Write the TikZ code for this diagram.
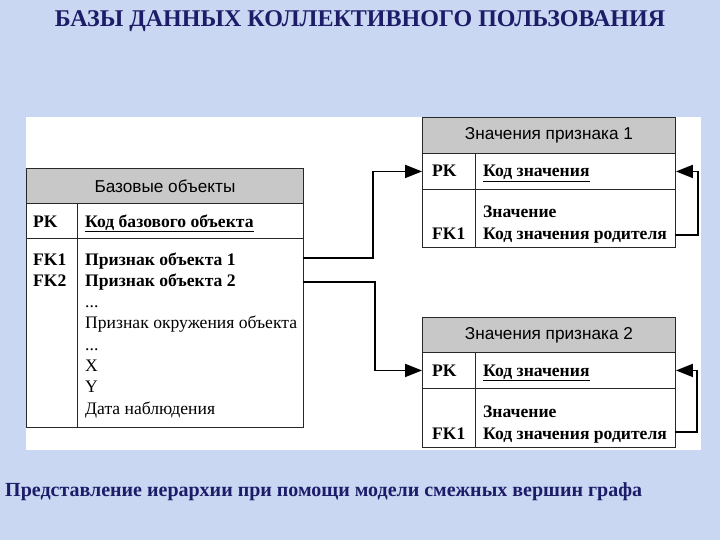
\documentclass[tikz,border=0pt]{standalone}
\usepackage{fontspec}
\setmainfont{Liberation Serif}
\newfontfamily\hdrfont{Liberation Sans}
\usetikzlibrary{arrows.meta}
\definecolor{bgblue}{RGB}{202,215,242}
\definecolor{navy}{RGB}{28,28,105}
\definecolor{hdrgray}{RGB}{200,200,200}
\definecolor{edge}{RGB}{40,40,40}
\tikzset{
  hdrbox/.style={draw=edge, line width=0.9pt, fill=hdrgray, inner sep=0pt, anchor=north west,
    font=\hdrfont\fontsize{17.2}{20}\selectfont},
  cellbox/.style={draw=edge, line width=0.9pt, fill=white, inner sep=0pt, anchor=north west},
  txt/.style={anchor=base west, inner sep=0pt, font=\fontsize{17.6}{21}\selectfont},
  btxt/.style={txt, font=\bfseries\fontsize{17.6}{21}\selectfont},
  conn/.style={line width=1.8pt, -{Triangle[length=17pt,width=13pt]}}
}
\begin{document}
\begin{tikzpicture}[x=1pt,y=-1pt]
\fill[bgblue] (0,0) rectangle (720,540);
\useasboundingbox (0,0) rectangle (720,540);
\fill[white] (26,117) rectangle (701,450);
% title
\node[font=\bfseries\fontsize{24}{28}\selectfont, text=navy, inner sep=0pt] (title) at (360,21) {БАЗЫ ДАННЫХ КОЛЛЕКТИВНОГО ПОЛЬЗОВАНИЯ};
% base table
\node[hdrbox, minimum width=277pt, minimum height=35pt] (bh) at (26,168) {Базовые объекты};
\node[cellbox, minimum width=277pt, minimum height=35pt] (bpk) at (26,203) {};
\node[cellbox, minimum width=277pt, minimum height=189pt] (bbody) at (26,238) {};
\draw[edge, line width=0.9pt] (77,203) -- (77,427);
\node[btxt] (bpkl) at (33,227) {PK};
\node[btxt] (bpkr) at (85,227) {\underline{Код базового объекта}};
\node[btxt] (bfk1) at (33,265) {FK1};
\node[btxt] (bfk2) at (33,286.3) {FK2};
\node[btxt] (bf1) at (85,265) {Признак объекта 1};
\node[btxt] (bf2) at (85,286.3) {Признак объекта 2};
\node[txt] (bf3) at (85,307.6) {...};
\node[txt] (bf4) at (85,328.9) {Признак окружения объекта};
\node[txt] (bf5) at (85,350.2) {...};
\node[txt] (bf6) at (85,371.5) {X};
\node[txt] (bf7) at (85,392.8) {Y};
\node[txt] (bf8) at (85,414.1) {Дата наблюдения};
% table 1
\node[hdrbox, minimum width=253pt, minimum height=36pt] (ah) at (422,117) {Значения признака 1};
\node[cellbox, minimum width=253pt, minimum height=36pt] (apk) at (422,153) {};
\node[cellbox, minimum width=253pt, minimum height=58pt] (abody) at (422,189) {};
\draw[edge, line width=0.9pt] (475,153) -- (475,247);
\node[btxt] (apkl) at (432,177) {PK};
\node[btxt] (apkr) at (483,177) {\underline{Код значения}};
\node[btxt] (aval) at (483,218) {Значение};
\node[btxt] (afk) at (432,240) {FK1};
\node[btxt] (apar) at (483,240) {Код значения родителя};
% table 2
\node[hdrbox, minimum width=253pt, minimum height=35pt] (ch) at (422,317) {Значения признака 2};
\node[cellbox, minimum width=253pt, minimum height=36pt] (cpk) at (422,352) {};
\node[cellbox, minimum width=253pt, minimum height=59pt] (cbody) at (422,388) {};
\draw[edge, line width=0.9pt] (475,352) -- (475,447);
\node[btxt] (cpkl) at (432,376) {PK};
\node[btxt] (cpkr) at (483,376) {\underline{Код значения}};
\node[btxt] (cval) at (483,417) {Значение};
\node[btxt] (cfk) at (432,439) {FK1};
\node[btxt] (cpar) at (483,439) {Код значения родителя};
% connectors
\coordinate (s1) at (303,258);
\coordinate (s2) at (303,282);
\draw[conn] (s1) -- (373,258) |- (apk.west);
\draw[conn] (s2) -- (375,282) |- (cpk.west);
\coordinate (l1) at (675,235);
\coordinate (l2) at (675,432);
\draw[conn] (l1) -- (698,235) |- (apk.east);
\draw[conn] (l2) -- (697,432) |- (cpk.east);
% caption
\node[font=\bfseries\fontsize{20}{24}\selectfont, text=navy, inner sep=0pt, anchor=west] (cap) at (5,492) {Представление иерархии при помощи модели смежных вершин графа};
\end{tikzpicture}
\end{document}
